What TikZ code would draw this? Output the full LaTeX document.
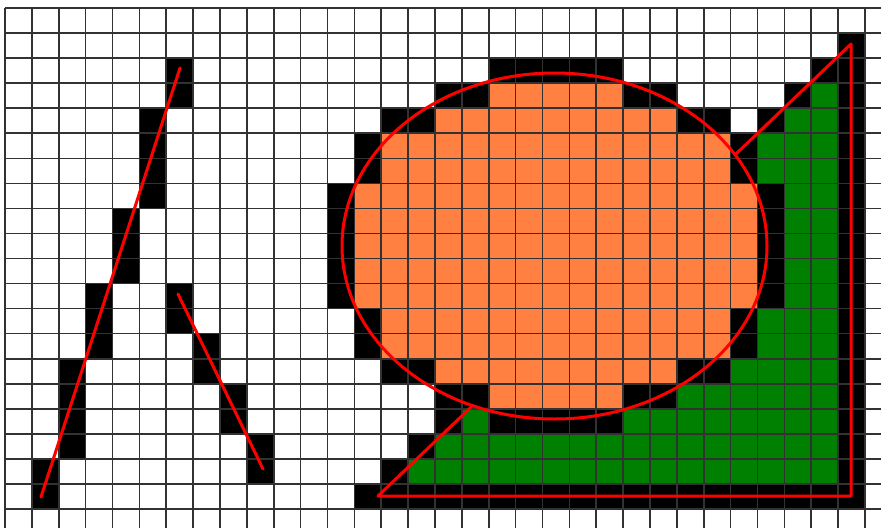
\documentclass[tikz,border=0pt]{standalone}
\usepackage{tikz}
\definecolor{gridgray}{RGB}{50,50,50}
\definecolor{orangefill}{RGB}{255,128,64}
\definecolor{greenfill}{RGB}{0,128,0}
\definecolor{redline}{RGB}{255,0,0}
\tikzset{
  blackcell/.style={fill=black},
  orangecell/.style={fill=orangefill},
  greencell/.style={fill=greenfill},
  gridline/.style={draw=gridgray,line width=1.6pt},
  redstroke/.style={draw=redline,line width=3pt,line cap=round,line join=round}
}
\begin{document}
\begin{tikzpicture}[x=1pt,y=-1pt]
\useasboundingbox (0,0) rectangle (881,528);
\fill[white] (0,0) rectangle (881,528);
\begin{scope}[shift={(5pt,-8pt)},x=26.875pt,y=-25.05pt]
  % --- rasterised line A
  \foreach \c/\r in {1/18,1/19,2/14,2/15,2/16,2/17,3/11,3/12,3/13,4/8,4/9,4/10,5/4,5/5,5/6,5/7,6/2,6/3}
    \fill[blackcell] (\c,\r) rectangle ++(1,1);
  % --- rasterised line B
  \foreach \c/\r in {6/11,6/12,7/13,7/14,8/15,8/16,9/17,9/18}
    \fill[blackcell] (\c,\r) rectangle ++(1,1);
  % --- rasterised triangle
  \fill[blackcell] (31,1) rectangle ++(1,1);
  \fill[blackcell] (30,2) rectangle ++(2,1);
  \foreach \r in {3,...,18}{
    \fill[blackcell] ({32-\r},\r) rectangle ++(1,1);
    \fill[greencell] ({33-\r},\r) rectangle (31,{\r+1});
    \fill[blackcell] (31,\r) rectangle ++(1,1);
  }
  \fill[blackcell] (13,19) rectangle (32,20);
  % --- rasterised circle: interior
  \foreach \r/\a/\b in {3/18/22,4/16/24,5/14/26,6/14/26,7/13/27,8/13/27,9/13/27,10/13/27,11/13/27,12/14/26,13/14/26,14/16/24,15/18/22}
    \fill[orangecell] (\a,\r) rectangle ({\b+1},{\r+1});
  % --- rasterised circle: boundary
  \fill[blackcell] (18,2) rectangle (23,3);
  \fill[blackcell] (18,16) rectangle (23,17);
  \foreach \r/\a/\b/\p/\q in {3/16/17/23/24,4/14/15/25/26,5/13/13/27/27,6/13/13/27/27,7/12/12/28/28,8/12/12/28/28,9/12/12/28/28,10/12/12/28/28,11/12/12/28/28,12/13/13/27/27,13/13/13/27/27,14/14/15/25/26,15/16/17/23/24}{
    \fill[blackcell] (\a,\r) rectangle ({\b+1},{\r+1});
    \fill[blackcell] (\p,\r) rectangle ({\q+1},{\r+1});
  }
\end{scope}
% --- grid
\foreach \i in {0,...,32}
  \draw[gridline] ({5+26.875*\i},8) -- ({5+26.875*\i},528);
\foreach \j in {0,...,20}
  \draw[gridline] (5,{8+25.05*\j}) -- (881,{8+25.05*\j});
% --- ideal shapes in red
\coordinate (a1) at (41,497);
\coordinate (a2) at (180,68);
\coordinate (b1) at (178,294);
\coordinate (b2) at (263,469);
\coordinate (t1) at (378,496);
\coordinate (t2) at (851,496);
\coordinate (t3) at (851,44);
\coordinate (h1) at (472.6,405.6);
\coordinate (h2) at (735.1,154.8);
\coordinate (oc) at (554.5,246);
\draw[redstroke] (a1) -- (a2);
\draw[redstroke] (b1) -- (b2);
\draw[redstroke] (h1) -- (t1) -- (t2) -- (t3) -- (h2);
\draw[redstroke] (oc) ellipse [x radius=212.5, y radius=173];
\end{tikzpicture}
\end{document}
